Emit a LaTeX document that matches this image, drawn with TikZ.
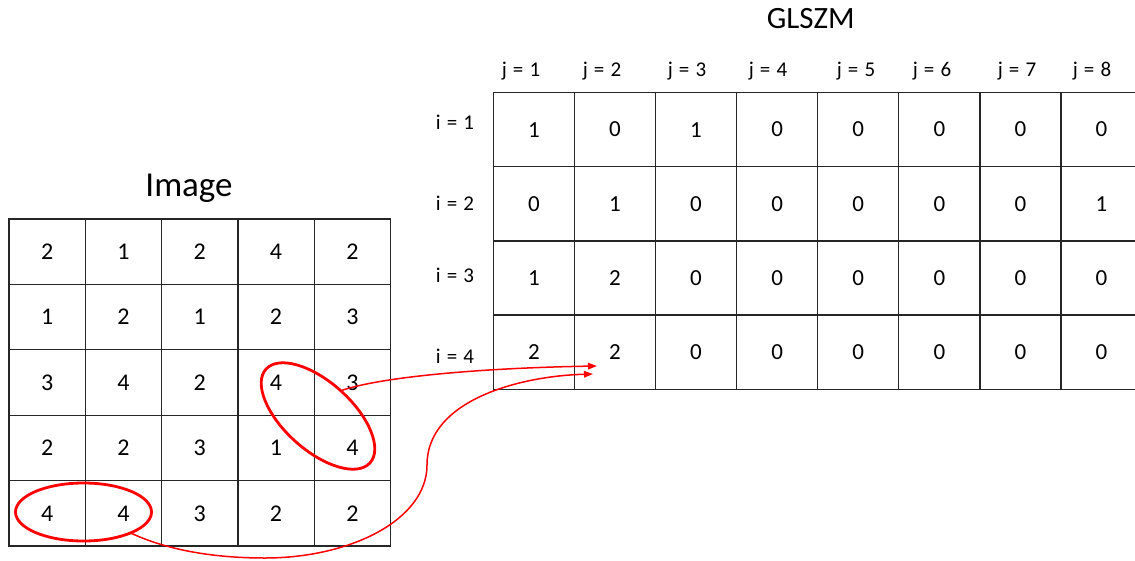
\documentclass[tikz,border=0pt]{standalone}
\usepackage{fontspec}
\setmainfont{Carlito}
\newfontfamily\labfont[WordSpace=1.3]{Carlito}
\usetikzlibrary{shapes.geometric,arrows.meta}
\begin{document}
\begin{tikzpicture}[x=1pt,y=1pt,
  gridcell/.style={draw=black!85,line width=1.3pt,inner sep=0pt,outer sep=0pt},
  cellL/.style={gridcell,minimum width=76.3pt,minimum height=65.4pt,font=\fontsize{24}{28}\selectfont},
  cellR/.style={gridcell,minimum width=81.1pt,minimum height=74.2pt,font=\fontsize{23}{27}\selectfont},
  lab/.style={anchor=base,inner sep=0pt,font=\fontsize{21}{25}\selectfont\labfont},
  title/.style={anchor=base,inner sep=0pt},
  ring/.style={ellipse,draw=red,line width=2.8pt,inner sep=0pt,outer sep=0pt},
  link/.style={draw=red,line width=1.5pt,-{Triangle[length=9pt,width=6.5pt]}}]
\useasboundingbox (0,0) rectangle (1135,-560);
\clip (0,0) rectangle (1135,-560);
% left image grid
\foreach \row [count=\r] in {{2,1,2,4,2},{1,2,1,2,3},{3,4,2,4,3},{2,2,3,1,4},{4,4,3,2,2}}{
  \foreach \v [count=\c] in \row {
    \node[cellL] (L-\r-\c) at ({9+76.3*(\c-0.5)},{-219-65.4*(\r-0.5)}) {\v};
  }
}
% GLSZM grid
\foreach \row [count=\r] in {{1,0,1,0,0,0,0,0},{0,1,0,0,0,0,0,1},{1,2,0,0,0,0,0,0},{2,2,0,0,0,0,0,0}}{
  \foreach \v [count=\c] in \row {
    \node[cellR] (R-\r-\c) at ({493.3+81.1*(\c-0.5)},{-92.5-74.2*(\r-0.5)}) {\v};
  }
}
% titles
\node[title,font=\fontsize{35}{40}\selectfont] (timg) at (189,-196.7) {Image};
\node[title,font=\fontsize{31}{36}\selectfont] (tgl) at (810.8,-28.3) {GLSZM};
% j labels
\foreach \x [count=\k] in {521,602,687,768,856,932,1017,1092}{
  \node[lab] (j\k) at (\x,-76) {j = \k};
}
% i labels
\foreach \y [count=\k] in {129.5,210.5,282.7,363.3}{
  \node[lab] (i\k) at (455,-\y) {i = \k};
}
% rings
\node[ring,minimum width=140pt,minimum height=68pt,rotate=-42] (e1) at (318,-416) {};
\node[ring,minimum width=136pt,minimum height=58pt] (e2) at (83.5,-512) {};
% arrow targets
\coordinate (t1) at (597,-366);
\coordinate (t2) at (593,-374);
\draw[link] (e1.north) .. controls (380,-377) and (480,-368) .. (t1);
\draw[link] (e2.-24) .. controls (165,-549) and (210,-558) .. (265,-558)
  .. controls (350,-558) and (427,-520) .. (427,-465)
  .. controls (427,-400) and (520,-376) .. (t2);
\end{tikzpicture}
\end{document}
